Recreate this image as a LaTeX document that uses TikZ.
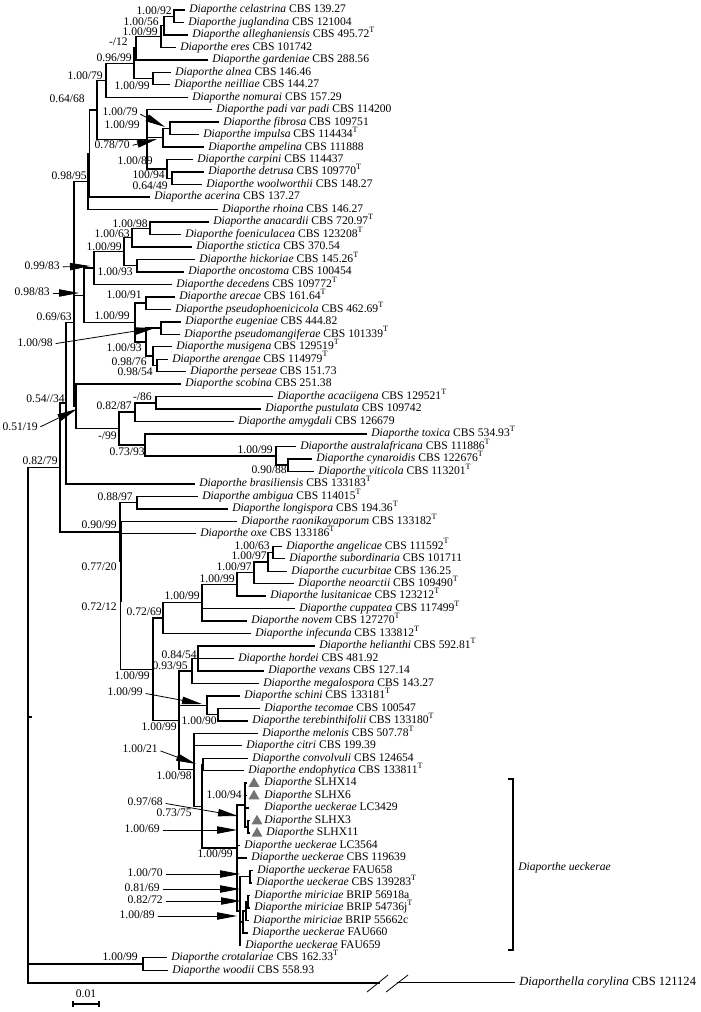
\documentclass[tikz,border=0pt]{standalone}
\usepackage{fontspec}
\setmainfont{Liberation Serif}
\usetikzlibrary{arrows.meta,shapes.geometric}
\newcommand\spn[1]{\textit{Diaporthe #1}}
\newcommand\Ty{\textsuperscript{T}}
\newcommand\lfx[5]{\coordinate (#1) at ({#2},#4); \node[tx,anchor=west] (#1t) at ({#3-1},#4) {#5};}
\newcommand\lf[4]{\lfx{#1}{#2-5}{#2}{#3}{#4}}
\newcommand\sv[4]{\node[tx,anchor=east] (#1) at (#2,#3) {#4};}
\newcommand\br[2]{\draw[br] (#1) |- (#2);}
\begin{document}
\begin{tikzpicture}[x=0.75pt,y=-0.75pt,
  br/.style={line width=1.05pt},
  rootbr/.style={line width=1.35pt},
  tx/.style={font=\fontsize{8.7}{9}\selectfont, inner sep=0pt, text height=6.2pt, text depth=1.9pt},
  sarr/.style={line width=0.6pt, shorten <=2pt, -{Triangle[length=15pt,width=5.5pt]}},
  tri/.style={regular polygon, regular polygon sides=3, fill=black!55, inner sep=0pt, minimum size=9.5pt}]
\useasboundingbox (0,0) rectangle (700,1012);
% ---------------- leaves ----------------
\lf{l1}{190}{10.0}{\spn{celastrina} CBS 139.27}
\lf{l2}{189}{22.5}{\spn{juglandina} CBS 121004}
\lf{l3}{193}{34.9}{\spn{alleghaniensis} CBS 495.72\Ty}
\lf{l4}{181}{47.4}{\spn{eres} CBS 101742}
\lf{l5}{213}{59.9}{\spn{gardeniae} CBS 288.56}
\lf{l6}{176}{72.4}{\spn{alnea} CBS 146.46}
\lf{l7}{175}{84.8}{\spn{neilliae} CBS 144.27}
\lf{l8}{193}{97.3}{\spn{nomurai} CBS 157.29}
\lf{l9}{217}{109.8}{\spn{padi var padi} CBS 114200}
\lf{l10}{224}{122.2}{\spn{fibrosa} CBS 109751}
\lf{l11}{204}{134.7}{\spn{impulsa} CBS 114434\Ty}
\lf{l12}{209}{147.2}{\spn{ampelina} CBS 111888}
\lf{l13}{198}{159.6}{\spn{carpini} CBS 114437}
\lf{l14}{209}{172.1}{\spn{detrusa} CBS 109770\Ty}
\lf{l15}{207}{184.6}{\spn{woolworthii} CBS 148.27}
\lf{l16}{155}{197.1}{\spn{acerina} CBS 137.27}
\lf{l17}{223}{209.5}{\spn{rhoina} CBS 146.27}
\lf{l18}{214}{222.0}{\spn{anacardii} CBS 720.97\Ty}
\lf{l19}{186}{234.5}{\spn{foeniculacea} CBS 123208\Ty}
\lf{l20}{197}{246.9}{\spn{stictica} CBS 370.54}
\lf{l21}{200}{259.4}{\spn{hickoriae} CBS 145.26\Ty}
\lf{l22}{189}{271.9}{\spn{oncostoma} CBS 100454}
\lf{l23}{177}{284.3}{\spn{decedens} CBS 109772\Ty}
\lf{l24}{180}{296.8}{\spn{arecae} CBS 161.64\Ty}
\lf{l25}{176}{309.3}{\spn{pseudophoenicicola} CBS 462.69\Ty}
\lf{l26}{186}{321.8}{\spn{eugeniae} CBS 444.82}
\lf{l27}{185}{334.2}{\spn{pseudomangiferae} CBS 101339\Ty}
\lf{l28}{177}{346.7}{\spn{musigena} CBS 129519\Ty}
\lf{l29}{173}{359.2}{\spn{arengae} CBS 114979\Ty}
\lf{l30}{191}{371.6}{\spn{perseae} CBS 151.73}
\lf{l31}{186}{384.1}{\spn{scobina} CBS 251.38}
\lf{l32}{278}{396.6}{\spn{acaciigena} CBS 129521\Ty}
\lf{l33}{266}{409.0}{\spn{pustulata} CBS 109742}
\lf{l34}{239}{421.5}{\spn{amygdali} CBS 126679}
\lf{l35}{372}{434.0}{\spn{toxica} CBS 534.93\Ty}
\lf{l36}{301}{446.5}{\spn{australafricana} CBS 111886\Ty}
\lf{l37}{317}{458.9}{\spn{cynaroidis} CBS 122676\Ty}
\lf{l38}{319}{471.4}{\spn{viticola} CBS 113201\Ty}
\lf{l39}{200}{483.9}{\spn{brasiliensis} CBS 133183\Ty}
\lf{l40}{203}{496.3}{\spn{ambigua} CBS 114015\Ty}
\lf{l41}{233}{508.8}{\spn{longispora} CBS 194.36\Ty}
\lf{l42}{242}{521.3}{\spn{raonikayaporum} CBS 133182\Ty}
\lf{l43}{201}{533.7}{\spn{oxe} CBS 133186\Ty}
\lf{l44}{287}{546.2}{\spn{angelicae} CBS 111592\Ty}
\lf{l45}{290}{558.7}{\spn{subordinaria} CBS 101711}
\lf{l46}{292}{571.2}{\spn{cucurbitae} CBS 136.25}
\lf{l47}{299}{583.6}{\spn{neoarctii} CBS 109490\Ty}
\lf{l48}{271}{596.1}{\spn{lusitanicae} CBS 123212\Ty}
\lf{l49}{300}{608.6}{\spn{cuppatea} CBS 117499\Ty}
\lf{l50}{252}{621.0}{\spn{novem} CBS 127270\Ty}
\lf{l51}{256}{633.5}{\spn{infecunda} CBS 133812\Ty}
\lf{l52}{320}{646.0}{\spn{helianthi} CBS 592.81\Ty}
\lf{l53}{239}{658.4}{\spn{hordei} CBS 481.92}
\lf{l54}{269}{670.9}{\spn{vexans} CBS 127.14}
\lf{l55}{264}{683.4}{\spn{megalospora} CBS 143.27}
\lf{l56}{245}{695.9}{\spn{schini} CBS 133181\Ty}
\lf{l57}{265}{708.3}{\spn{tecomae} CBS 100547}
\lf{l58}{253}{720.8}{\spn{terebinthifolii} CBS 133180\Ty}
\lf{l59}{263}{733.3}{\spn{melonis} CBS 507.78\Ty}
\lf{l60}{247}{745.7}{\spn{citri} CBS 199.39}
\lf{l61}{253}{758.2}{\spn{convolvuli} CBS 124654}
\lf{l62}{249}{770.7}{\spn{endophytica} CBS 133811\Ty}
\lfx{l63}{247}{265}{783.1}{\textit{Diaporthe} SLHX14}
\lfx{l64}{247}{265}{795.6}{\textit{Diaporthe} SLHX6}
\lfx{l65}{249}{265}{808.1}{\spn{ueckerae} LC3429}
\lfx{l66}{250}{265}{820.6}{\textit{Diaporthe} SLHX3}
\lfx{l67}{250}{267}{833.0}{\textit{Diaporthe} SLHX11}
\lf{l68}{245}{845.5}{\spn{ueckerae} LC3564}
\lf{l69}{252}{858.0}{\spn{ueckerae} CBS 119639}
\lf{l70}{258}{870.4}{\spn{ueckerae} FAU658}
\lf{l71}{257}{882.9}{\spn{ueckerae} CBS 139283\Ty}
\lf{l72}{255}{895.4}{\spn{miriciae} BRIP 56918a}
\lf{l73}{255}{907.8}{\spn{miriciae} BRIP 54736j\Ty}
\lf{l74}{254}{920.3}{\spn{miriciae} BRIP 55662c}
\lf{l75}{253}{932.8}{\spn{ueckerae} FAU660}
\lf{l76}{246}{945.2}{\spn{ueckerae} FAU659}
\lf{l77}{172}{957.7}{\spn{crotalariae} CBS 162.33\Ty}
\lf{l78}{173}{970.2}{\spn{woodii} CBS 558.93}
\coordinate (l79) at (515,982.7);
\node[tx,anchor=west,font=\fontsize{9.4}{10}\selectfont] (l79t) at (519,982.7) {\textit{Diaporthella corylina} CBS 121124};
% triangles
\node[tri] (t63) at (254,783.6) {};
\node[tri] (t64) at (254,796.1) {};
\node[tri] (t66) at (257,821.1) {};
\node[tri] (t67) at (257,833.5) {};
% ---------------- internal nodes ----------------
\coordinate (A) at (174,16.25);
\coordinate (B) at (164,25.6);
\coordinate (C) at (161,36.5);
\coordinate (D1) at (136,48.2);
\coordinate (E) at (153,78.6);
\coordinate (D) at (134,63.4);
\coordinate (F) at (106,80.4);
\coordinate (K) at (170,128.5);
\coordinate (L) at (163,137.8);
\coordinate (P) at (172,178.4);
\coordinate (N) at (167,169.0);
\coordinate (G) at (147,139.4);
\coordinate (J) at (97,109.9);
\coordinate (H) at (89.5,153.5);
\coordinate (I) at (88,181.5);
\coordinate (Q1) at (150,228.25);
\coordinate (Q2) at (132,237.6);
\coordinate (Q3) at (137,265.65);
\coordinate (Q4) at (124,251.6);
\coordinate (Q5) at (94,268.0);
\coordinate (R1) at (146,303.05);
\coordinate (R2) at (161,328.0);
\coordinate (S1) at (157,365.4);
\coordinate (S2) at (153,356.05);
\coordinate (S3) at (146,342.0);
\coordinate (R3) at (135,322.5);
\coordinate (Q6) at (84,295.25);
\coordinate (V1) at (74,238.4);
\coordinate (U1a) at (156,402.8);
\coordinate (U1) at (135,412.15);
\coordinate (U4) at (288,465.15);
\coordinate (U3) at (276,455.8);
\coordinate (U2) at (145,444.9);
\coordinate (U) at (119,428.5);
\coordinate (Z2) at (76,406.3);
\coordinate (Z) at (74,322.35);
\coordinate (W) at (66,403.1);
\coordinate (Y1) at (137,502.55);
\coordinate (AA) at (273,552.45);
\coordinate (AB) at (268,561.8);
\coordinate (AC) at (254,572.7);
\coordinate (AD) at (237,584.4);
\coordinate (AE) at (202,602.7);
\coordinate (AF) at (163,618.1);
\coordinate (AH1) at (198,658.45);
\coordinate (AH) at (192,670.9);
\coordinate (AI1) at (218,714.55);
\coordinate (AI) at (207,705.2);
\coordinate (AM) at (203,764.45);
\coordinate (AP2) at (248,826.8);
\coordinate (AP1) at (245,805.0);
\coordinate (AR1) at (250,876.65);
\coordinate (AR2) at (248,901.6);
\coordinate (AR3) at (246,910.95);
\coordinate (AR4) at (243,921.9);
\coordinate (AQ) at (240,910.9);
\coordinate (AO) at (237,848.0);
\coordinate (AN) at (202,806.2);
\coordinate (AK) at (194,769.75);
\coordinate (AJ) at (179,720.3);
\coordinate (AG) at (153,669.2);
\coordinate (Y3) at (120.5,601.45);
\coordinate (Y2) at (121,561.4);
\coordinate (Y) at (120,532.0);
\coordinate (X) at (60,467.55);
\coordinate (CW) at (143,963.95);
\coordinate (ROOT) at (28,725.0);
% ---------------- branches ----------------
\br{A}{l1}\br{A}{l2}
\br{B}{A}\br{B}{l3}
\br{C}{B}\br{C}{l4}
\br{D1}{C}\br{D1}{l5}
\br{E}{l6}\br{E}{l7}
\br{D}{D1}\br{D}{E}
\br{F}{D}\br{F}{l8}
\br{K}{l10}\br{K}{l11}
\br{L}{K}\br{L}{l12}
\br{P}{l14}\br{P}{l15}
\br{N}{l13}\br{N}{P}
\br{G}{l9}\br{G}{L}\br{G}{N}
\br{J}{F}\br{J}{G}
\br{H}{J}\br{H}{l16}
\br{I}{H}\br{I}{l17}
\br{Q1}{l18}\br{Q1}{l19}
\br{Q2}{Q1}\br{Q2}{l20}
\br{Q3}{l21}\br{Q3}{l22}
\br{Q4}{Q2}\br{Q4}{Q3}
\br{Q5}{Q4}\br{Q5}{l23}
\br{R1}{l24}\br{R1}{l25}
\br{R2}{l26}\br{R2}{l27}
\br{S1}{l29}\br{S1}{l30}
\br{S2}{l28}\br{S2}{S1}
\br{S3}{R2}\br{S3}{S2}
\br{R3}{R1}\br{R3}{S3}
\br{Q6}{Q5}\br{Q6}{R3}
\br{V1}{I}\br{V1}{Q6}
\br{U1a}{l32}\br{U1a}{l33}
\br{U1}{U1a}\br{U1}{l34}
\br{U4}{l37}\br{U4}{l38}
\br{U3}{l36}\br{U3}{U4}
\br{U2}{l35}\br{U2}{U3}
\br{U}{U1}\br{U}{U2}
\br{Z2}{l31}\br{Z2}{U}
\br{Z}{V1}\br{Z}{Z2}
\br{W}{Z}\br{W}{l39}
\br{Y1}{l40}\br{Y1}{l41}
\br{AA}{l44}\br{AA}{l45}
\br{AB}{AA}\br{AB}{l46}
\br{AC}{AB}\br{AC}{l47}
\br{AD}{AC}\br{AD}{l48}
\br{AE}{AD}\br{AE}{l49}\br{AE}{l50}
\br{AF}{AE}\br{AF}{l51}
\br{AH1}{l52}\br{AH1}{l53}\br{AH1}{l54}
\br{AH}{AH1}\br{AH}{l55}
\br{AI1}{l57}\br{AI1}{l58}
\br{AI}{l56}\br{AI}{AI1}
\br{AM}{l61}\br{AM}{l62}
\br{AP2}{l66}\br{AP2}{l67}
\br{AP1}{l63}\br{AP1}{l64}\br{AP1}{l65}\br{AP1}{AP2}
\br{AR1}{l70}\br{AR1}{l71}
\br{AR2}{l72}\br{AR2}{l73}
\br{AR3}{AR2}\br{AR3}{l74}
\br{AR4}{AR3}\br{AR4}{l75}
\br{AQ}{AR1}\br{AQ}{AR4}\br{AQ}{l76}
\br{AO}{AP1}\br{AO}{l68}\br{AO}{l69}\br{AO}{AQ}
\br{AN}{AM}\br{AN}{AO}
\br{AK}{l59}\br{AK}{l60}\br{AK}{AN}
\br{AJ}{AH}\br{AJ}{AI}\br{AJ}{AK}
\br{AG}{AF}\br{AG}{AJ}
\br{Y3}{l43}\br{Y3}{AG}
\br{Y2}{l42}\br{Y2}{Y3}
\br{Y}{Y1}\br{Y}{Y2}
\br{X}{W}\br{X}{Y}
\br{CW}{l77}\br{CW}{l78}
% root and outgroup with break
\coordinate (brk1) at (380,982.7);
\coordinate (brk2) at (397,982.7);
\draw[rootbr] (ROOT) |- (X);
\draw[rootbr] (ROOT) |- (CW);
\draw[rootbr] (ROOT) |- (brk1);
\draw[br] (brk2) -- (l79);
\coordinate (sl1a) at (367,992); \coordinate (sl1b) at (388,975);
\coordinate (sl2a) at (386,992); \coordinate (sl2b) at (408,975);
\draw[line width=0.6pt] (sl1a) -- (sl1b);
\draw[line width=0.6pt] (sl2a) -- (sl2b);
\coordinate (rtk1) at (28,717); \coordinate (rtk2) at (32,717);
\draw[line width=0.8pt] (rtk1) -- (rtk2);
% ---------------- support values ----------------
\sv{s1}{172}{12}{1.00/92}
\sv{s2}{159}{23}{1.00/56}
\sv{s3}{158}{33}{1.00/99}
\sv{s4}{128}{43}{-/12}
\sv{s5}{132}{59}{0.96/99}
\sv{s6}{103}{77}{1.00/79}
\sv{s7}{150}{87}{1.00/99}
\sv{s8}{85}{100}{0.64/68}
\sv{s9}{138}{113}{1.00/79}
\sv{s10}{140}{126}{1.00/99}
\sv{s11}{130}{146}{0.78/70}
\sv{s12}{153}{162}{1.00/89}
\sv{s13}{165}{176}{100/94}
\sv{s14}{168}{187}{0.64/49}
\sv{s15}{87}{177}{0.98/95}
\sv{s16}{148}{225}{1.00/98}
\sv{s17}{130}{235}{1.00/63}
\sv{s18}{122}{248}{1.00/99}
\sv{s19}{60}{267}{0.99/83}
\sv{s20}{133}{273}{1.00/93}
\sv{s21}{50}{293}{0.98/83}
\sv{s22}{142}{296}{1.00/91}
\sv{s23}{130}{317}{1.00/99}
\sv{s24}{72}{318}{0.69/63}
\sv{s25}{53}{344}{1.00/98}
\sv{s26}{142}{349}{1.00/93}
\sv{s27}{147}{363}{0.98/76}
\sv{s28}{153}{373}{0.98/54}
\sv{s29}{152}{398}{-/86}
\sv{s30}{65}{400}{0.54//34}
\sv{s31}{132}{407}{0.82/87}
\sv{s32}{38}{428}{0.51/19}
\sv{s33}{117}{437}{-/99}
\sv{s34}{273}{451}{1.00/99}
\sv{s35}{145}{453}{0.73/93}
\sv{s36}{58}{462}{0.82/79}
\sv{s37}{287}{470.2}{0.90/88}
\sv{s38}{133}{498}{0.88/97}
\sv{s39}{117}{526}{0.90/99}
\sv{s40}{270}{546.5}{1.00/63}
\sv{s41}{267}{557}{1.00/97}
\sv{s42}{252}{568}{1.00/97}
\sv{s43}{117}{568}{0.77/20}
\sv{s44}{235}{580}{1.00/99}
\sv{s45}{200}{597}{1.00/99}
\sv{s46}{117}{608}{0.72/12}
\sv{s47}{162}{613}{0.72/69}
\sv{s48}{197}{656}{0.84/54}
\sv{s49}{188}{667}{0.93/95}
\sv{s50}{150}{677}{1.00/99}
\sv{s51}{143}{693}{1.00/99}
\sv{s52}{217}{722}{1.00/90}
\sv{s53}{177}{728}{1.00/99}
\sv{s54}{158}{750}{1.00/21}
\sv{s55}{192}{777}{1.00/98}
\sv{s56}{242}{796}{1.00/94}
\sv{s57}{163}{803}{0.97/68}
\sv{s58}{192}{814}{0.73/75}
\sv{s59}{160}{830}{1.00/69}
\sv{s60}{233}{855}{1.00/99}
\sv{s61}{163}{874}{1.00/70}
\sv{s62}{160}{889}{0.81/69}
\sv{s63}{163}{901}{0.82/72}
\sv{s64}{155}{916}{1.00/89}
\sv{s65}{138}{958}{1.00/99}
% ---------------- arrows ----------------
\coordinate (a1) at (165,127);
\coordinate (a2) at (157,139);
\coordinate (a3) at (90,266);
\coordinate (a4) at (79,293);
\coordinate (a5) at (155,328);
\coordinate (a6) at (77,409);
\coordinate (a7) at (202,704);
\coordinate (a8) at (196,764);
\coordinate (a9) at (238,816);
\coordinate (a10) at (237,830);
\coordinate (a11) at (240,874);
\coordinate (a12) at (240,889);
\coordinate (a13) at (241,901);
\coordinate (a14) at (237,916);
\draw[sarr] (s9.east) -- (a1);
\draw[sarr] (s11.east) -- (a2);
\draw[sarr] (s19.east) -- (a3);
\draw[sarr] (s21.east) -- (a4);
\draw[sarr] (s25.east) -- (a5);
\draw[sarr] (s32.east) -- (a6);
\draw[sarr] (s51.east) -- (a7);
\draw[sarr] (s54.east) -- (a8);
\draw[sarr] (s57.east) -- (a9);
\draw[sarr] (s59.east) -- (a10);
\draw[sarr] (s61.east) -- (a11);
\draw[sarr] (s62.east) -- (a12);
\draw[sarr] (s63.east) -- (a13);
\draw[sarr] (s64.east) -- (a14);
% ---------------- bracket ----------------
\coordinate (ub1) at (508,779); \coordinate (ub2) at (513,779);
\coordinate (ub3) at (513,950); \coordinate (ub4) at (508,950);
\draw[br] (ub1) -- (ub2) -- (ub3) -- (ub4);
\node[tx,anchor=west] (ueck) at (518,868) {\textit{Diaporthe ueckerae}};
% ---------------- scale bar ----------------
\coordinate (sb1) at (73,1004); \coordinate (sb2) at (99,1004);
\draw[line width=0.8pt] (sb1) -- (sb2);
\draw[line width=0.8pt] ([yshift=2.2pt]sb1) -- ([yshift=-2.2pt]sb1);
\draw[line width=0.8pt] ([yshift=2.2pt]sb2) -- ([yshift=-2.2pt]sb2);
\node[tx] (sbl) at (86,995) {0.01};
\end{tikzpicture}
\end{document}
